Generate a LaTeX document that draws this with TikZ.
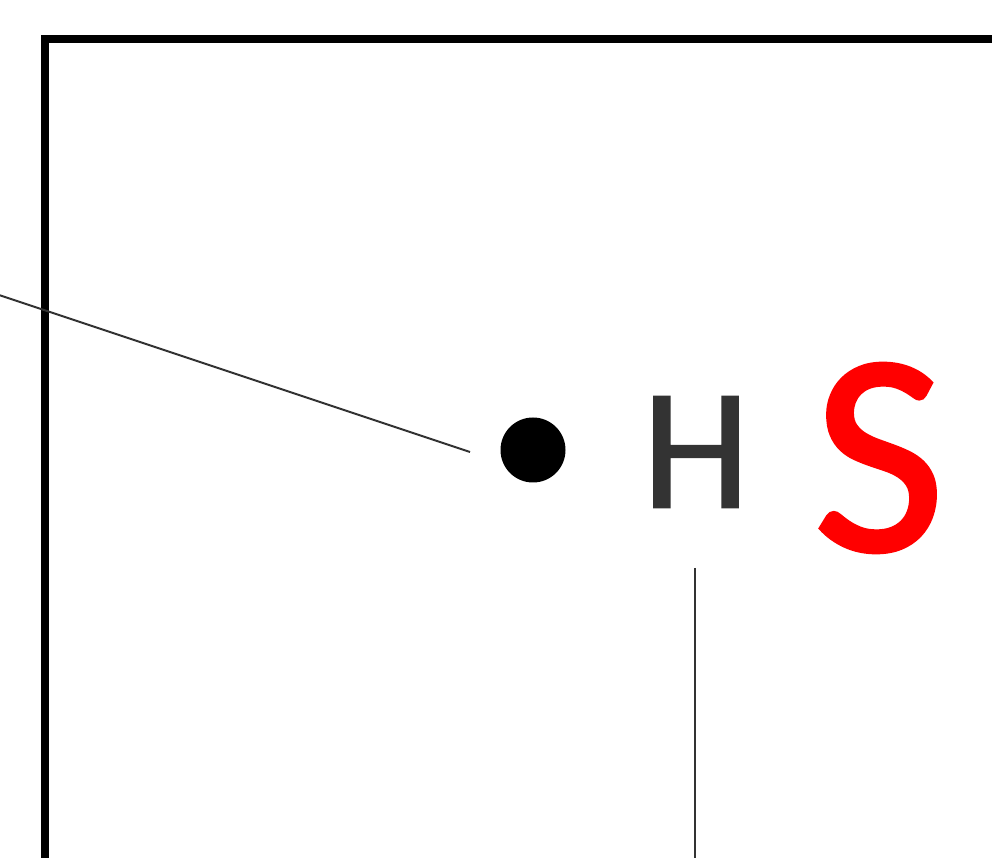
\documentclass[tikz,border=0pt]{standalone}
\usepackage{fontspec}
\setmainfont{Carlito}
\newfontfamily\letterfont[FakeBold=1.3]{Carlito}
\usepackage{xcolor}
\usetikzlibrary{positioning,calc}
\definecolor{inkgray}{HTML}{333333}

\begin{document}
\begin{tikzpicture}[
  x=0.02cm, y=-0.02cm,
  frameLine/.style={line width=4pt, black},
  thinLine/.style={line width=1.1pt, inkgray},
  dotNode/.style={circle, fill=black, minimum size=65*0.02cm, inner sep=0pt},
  letterH/.style={font=\letterfont\fontsize{98}{98}\selectfont, text=inkgray, inner sep=0pt},
  letterS/.style={font=\letterfont\fontsize{164}{164}\selectfont, text=red, inner sep=0pt}
]
  \useasboundingbox (0,0) rectangle (992,858);
  \clip (0,0) rectangle (992,858);

  % Frame
  \draw[frameLine] (45,900) -- (45,39) -- (1000,39);

  % Dot and letters
  \node[dotNode] (dot) at (533,450) {};
  \node[letterH] (H) at (696,452) {H};
  \node[letterS] (S) at (879,458) {S};

  % Leader lines
  \coordinate (lstart) at (-10,292);
  \coordinate (lend) at (470,452);
  \draw[thinLine] (lstart) -- (lend);

  \coordinate (vtop) at (695,568);
  \coordinate (vend) at (695,870);
  \draw[thinLine] (vtop) -- (vend);
\end{tikzpicture}
\end{document}
